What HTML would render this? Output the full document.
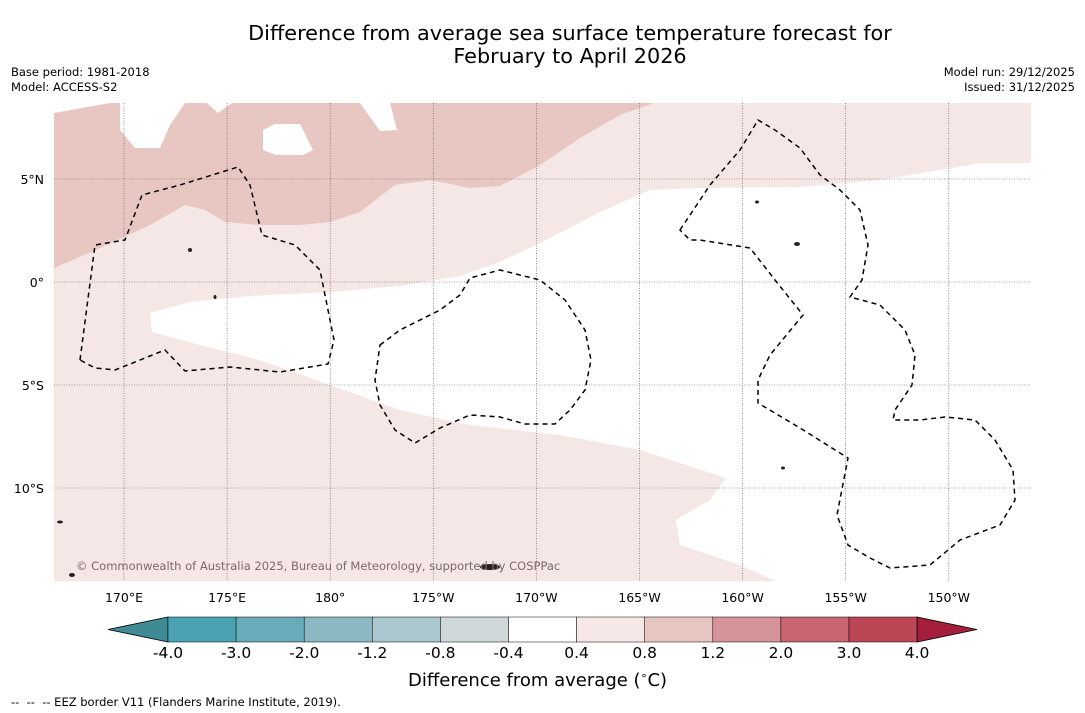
<!DOCTYPE html>
<html><head><meta charset="utf-8">
<style>
body{margin:0;background:#fff;font-family:"DejaVu Sans","Liberation Sans",sans-serif;}
#wrap{position:relative;width:1085px;height:713px;overflow:hidden;background:#fff;}
.t{position:absolute;color:#000;}
</style></head><body>
<div id="wrap">
<div class="t" style="left:0;width:1140px;top:22px;text-align:center;font-size:20.8px;line-height:23px;">Difference from average sea surface temperature forecast for<br>February to April 2026</div>
<div class="t" style="left:11px;top:65px;font-size:11.5px;line-height:15px;">Base period: 1981-2018<br>Model: ACCESS-S2</div>
<div class="t" style="right:10px;top:65px;font-size:11.5px;line-height:15px;text-align:right;">Model run: 29/12/2025<br>Issued: 31/12/2025</div>
<svg id="map" width="1085" height="713" style="position:absolute;left:0;top:0">
<defs><clipPath id="mc"><rect x="54" y="103" width="977" height="478"/></clipPath></defs>
<g clip-path="url(#mc)">
<rect x="54" y="103" width="977" height="478" fill="#f5e7e5"/>
<path fill="#e8c6c1" d="M54,113 L54,268 L100,248 L150,225 L185,205 L205,210 L225,222 L260,225 L300,225 L330,222 L360,212 L395,185 L430,180 L470,188 L500,186 L540,165 L580,138 L620,115 L654,103 L54,103Z"/>
<path fill="#fff" d="M54,103 L54,113 L110,103Z M150,313 L152,332 L200,345 L260,360 L330,385 L400,410 L470,425 L560,435 L640,450 L726,478 L710,500 L676,520 L680,545 L740,565 L775,581 L1031,581 L1031,163 L980,163 L940,170 L880,180 L800,187 L700,188 L650,190 L600,212 L550,238 L500,262 L460,276 L400,286 L330,292 L250,296 L190,302Z M120,103 L185,103 L170,125 L160,148 L135,148 L120,130Z M207,103 L232,103 L218,113Z M360,103 L390,103 L397,130 L380,131Z M263,130 L275,124 L300,124 L313,150 L303,155 L276,155 L263,150Z"/>
<g stroke="#555" stroke-width="0.6" stroke-dasharray="1,1.5" id="grid"></g>
<g fill="none" stroke="#000" stroke-width="1.5" stroke-dasharray="5,4">
<path d="M80,360 L95,245 L125,240 L142,195 L180,185 L238,167 L250,185 L262,235 L295,245 L320,270 L328,310 L334,340 L328,364 L280,372 L230,367 L185,371 L165,350 L150,356 L115,370 L95,368Z"/>
<path d="M380,345 L400,330 L440,310 L460,295 L470,278 L500,270 L540,280 L565,300 L585,330 L591,360 L585,390 L570,410 L555,424 L525,424 L500,417 L470,415 L440,428 L415,443 L395,430 L380,405 L375,380Z"/>
<path d="M680,230 L710,185 L740,150 L758,120 L775,130 L800,148 L820,175 L840,190 L860,210 L868,245 L862,280 L850,297 L880,305 L905,330 L915,355 L912,385 L895,410 L893,420 L920,420 L945,417 L975,420 L995,440 L1013,470 L1015,500 L1000,525 L960,540 L930,565 L890,568 L870,558 L848,545 L837,515 L848,458 L800,428 L758,403 L758,380 L770,355 L803,315 L775,280 L750,248 L700,240 L690,240Z"/>
</g>
<g fill="#222">
<ellipse cx="490" cy="567" rx="10" ry="3"/><ellipse cx="60" cy="522" rx="3" ry="1.5"/><ellipse cx="72" cy="575" rx="3" ry="2"/><ellipse cx="797" cy="244" rx="3" ry="2"/><ellipse cx="190" cy="250" rx="2" ry="2"/><ellipse cx="215" cy="297" rx="1.5" ry="2"/><ellipse cx="783" cy="468" rx="2" ry="1.5"/><ellipse cx="757" cy="202" rx="2" ry="1.5"/>
</g>
</g>
<text x="76" y="570" font-size="11.5" fill="#7a6a6a" font-family="DejaVu Sans, sans-serif">© Commonwealth of Australia 2025, Bureau of Meteorology, supported by COSPPac</text>
<g id="axlabels" font-size="12.5" font-family="DejaVu Sans, sans-serif"></g>
<g id="cbar"></g>
</svg>
<div class="t" style="left:408px;top:669px;font-size:18px;">Difference from average (<sup style="font-size:11px">∘</sup>C)</div>
<div class="t" style="left:11px;top:695px;font-size:11.5px;">-- &nbsp;-- &nbsp;-- EEZ border V11 (Flanders Marine Institute, 2019).</div>
</div>
<script>
const lonTicks=[170,175,180,185,190,195,200,205,210];
const lonLabels=["170°E","175°E","180°","175°W","170°W","165°W","160°W","155°W","150°W"];
const latTicks=[5,0,-5,-10];
const latLabels=["5°N","0°","5°S","10°S"];
const levels=["-4.0","-3.0","-2.0","-1.2","-0.8","-0.4","0.4","0.8","1.2","2.0","3.0","4.0"];
const colors=["#3f8a93","#4aa2b2","#68abba","#8bb8c3","#aac8cd","#d0d7d8","#ffffff","#f6e8e6","#e7c5c1","#d7939a","#c96570","#bd4656","#a51e3c"];
const ns="http://www.w3.org/2000/svg";
const xs=l=>124+(l-170)*103.1/5, ys=l=>282-l*103/5;
const grid=document.getElementById('grid'),ax=document.getElementById('axlabels');
function mk(t,a,p){const e=document.createElementNS(ns,t);for(const k in a)e.setAttribute(k,a[k]);p.appendChild(e);return e;}
lonTicks.forEach((l,i)=>{const x=xs(l);
const g=mk('line',{x1:x,x2:x,y1:103,y2:581},grid);


const t=mk('text',{x:x,y:602,'text-anchor':'middle'},ax);t.textContent=lonLabels[i];

});
latTicks.forEach((l,i)=>{const y=ys(l);
const g=mk('line',{x1:54,x2:1031,y1:y,y2:y},grid);


const t=mk('text',{x:44,y:y+5,'text-anchor':'end'},ax);t.textContent=latLabels[i];

});
const cb=document.getElementById('cbar');
const x0=168,w=68.1,y0=617,h=25,n=levels.length-1;


const lt=mk('polygon',{points:`108,${y0+h/2} ${x0},${y0} ${x0},${y0+h}`,fill:colors[0],stroke:'#000','stroke-width':0.8},cb);


for(let i=0;i<n;i++){const r=mk('rect',{x:x0+i*w,y:y0,width:w,height:h,fill:colors[i+1],stroke:'#000','stroke-width':0.5},cb);

}
const xe=x0+n*w;
const rt=mk('polygon',{points:`${xe},${y0} ${xe+60},${y0+h/2} ${xe},${y0+h}`,fill:colors[colors.length-1],stroke:'#000','stroke-width':0.8},cb);


levels.forEach((v,i)=>{const t=mk('text',{x:x0+i*w,y:658,'text-anchor':'middle','font-size':15.5,'font-family':'DejaVu Sans, sans-serif'},cb);t.textContent=v;

});
</script>
</body></html>
